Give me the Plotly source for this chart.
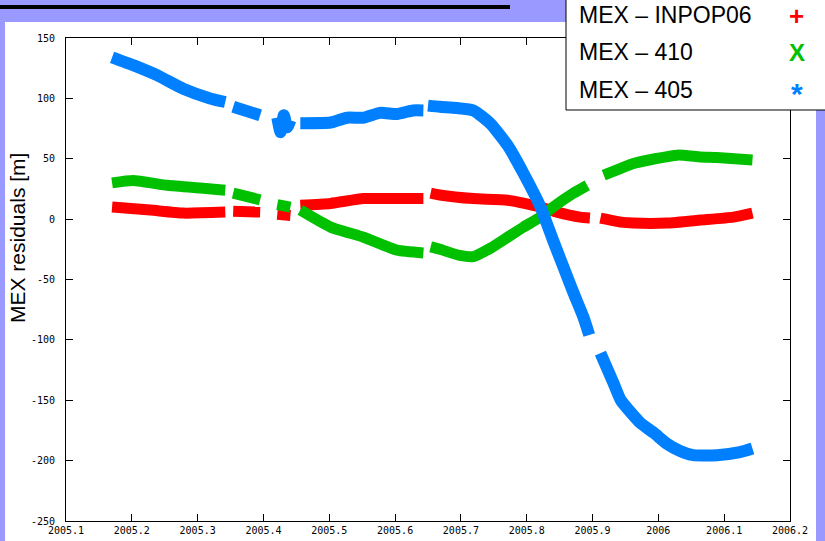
import plotly.graph_objects as go

# ---------------- data ----------------
t_inpop = [2005.170, 2005.228, 2005.278, 2005.342, None,
           2005.354, 2005.395, None,
           2005.421, 2005.441, None,
           2005.456, 2005.502, 2005.552, 2005.603, 2005.643, None,
           2005.654, 2005.668, 2005.719, 2005.771, 2005.821, 2005.846, 2005.881, 2005.896, None,
           2005.912, 2005.943, 2005.962, 2006.013, 2006.064, 2006.114, 2006.143]
v_inpop = [10, 7.5, 5, 5.8, None,
           6.6, 5.8, None,
           4, 3, None,
           11.6, 13, 17, 17, 17, None,
           21.5, 20, 17, 15.7, 10, 5.8, 1.7, 1, None,
           0.8, -2.5, -3.3, -3.3, -0.8, 1.7, 5]

t_410 = [2005.170, 2005.202, 2005.254, 2005.304, 2005.342, None,
         2005.354, 2005.395, None,
         2005.421, 2005.441, None,
         2005.456, 2005.502, 2005.552, 2005.603, 2005.643, None,
         2005.654, 2005.668, 2005.698, 2005.719, 2005.745, 2005.771, 2005.795, 2005.821,
         2005.840, 2005.871, 2005.892, None,
         2005.917, 2005.943, 2005.962, 2005.995, 2006.029, 2006.064, 2006.089, 2006.143]
v_410 = [30, 32, 28, 25.7, 24, None,
         21.5, 16, None,
         12, 10, None,
         7.5, -6.6, -15, -25.7, -28, None,
         -23, -25, -30, -31, -24, -15, -6.6, 1.7,
         10, 21.5, 28, None,
         36.4, 42, 46, 50, 53, 51.5, 51, 49]

t_405 = [2005.170, 2005.202, 2005.239, 2005.278, 2005.319, 2005.342, None,
         2005.354, 2005.395, None,
         2005.421, 2005.426, 2005.431, 2005.436, 2005.441, None,
         2005.456, 2005.502, 2005.527, 2005.552, 2005.577, 2005.603, 2005.627, 2005.643, None,
         2005.650, 2005.668, 2005.694, 2005.719, 2005.745, 2005.771, 2005.795, 2005.821,
         2005.840, 2005.856, 2005.871, 2005.886, 2005.895, None,
         2005.912, 2005.932, 2005.943, 2005.973, 2005.993, 2006.013, 2006.033, 2006.053,
         2006.089, 2006.124, 2006.143]
v_405 = [134, 127.5, 119, 108, 100, 97, None,
         93, 86, None,
         84, 72, 86, 76, 82, None,
         79.5, 80, 84, 84, 88, 87, 90, 90, None,
         94, 93, 92, 90, 79, 61, 38, 10,
         -17.5, -40, -61, -81, -96, None,
         -111, -136, -150, -169, -177, -186, -192, -195.5,
         -195.5, -193, -190]

x_ticks = [2005.1, 2005.2, 2005.3, 2005.4, 2005.5, 2005.6, 2005.7, 2005.8, 2005.9, 2006.0, 2006.1, 2006.2]
x_tick_labels = ["2005.1", "2005.2", "2005.3", "2005.4", "2005.5", "2005.6", "2005.7",
                 "2005.8", "2005.9", "2006", "2006.1", "2006.2"]
y_ticks = [-250, -200, -150, -100, -50, 0, 50, 100, 150]
y_tick_labels = ["-250", "-200", "-150", "-100", "-50", "0", "50", "100", "150"]

series_names = ["MEX \u2013 INPOP06", "MEX \u2013 410", "MEX \u2013 405"]
series_colors = ["#ff0000", "#00c000", "#0080ff"]
series_symbols = ["+", "X", "*"]

# ---------------- figure ----------------
fig = go.Figure()
for t, v, name, col, w in [(t_inpop, v_inpop, series_names[0], series_colors[0], 11),
                           (t_410, v_410, series_names[1], series_colors[1], 11),
                           (t_405, v_405, series_names[2], series_colors[2], 12)]:
    fig.add_trace(go.Scatter(x=t, y=v, mode="lines", name=name,
                             line=dict(color=col, width=w, shape="spline", smoothing=0.5),
                             connectgaps=False, showlegend=False, hoverinfo="skip"))

L, R, T, B = 66, 35, 38, 20
W, H = 825, 541
pw, ph = W - L - R, H - T - B


def px(x):
    return (x - L) / pw


def py(y):
    return (H - B - y) / ph


tickfont = dict(family="DejaVu Sans Mono", size=10, color="black")
fig.update_xaxes(range=[2005.1, 2006.2], tickvals=x_ticks, ticktext=x_tick_labels,
                 ticks="inside", ticklen=7, tickcolor="black", showline=True,
                 linecolor="black", linewidth=1, mirror="ticks", showgrid=False,
                 zeroline=False, tickfont=tickfont, automargin=False)
fig.update_yaxes(range=[-250, 150], tickvals=y_ticks, ticktext=y_tick_labels,
                 ticks="inside", ticklen=7, tickcolor="black", showline=True,
                 linecolor="black", linewidth=1, mirror="ticks", showgrid=False,
                 zeroline=False, tickfont=tickfont, ticklabelstandoff=8, automargin=False)

shapes = [
    dict(type="rect", xref="paper", yref="paper", x0=px(5), x1=px(816), y0=py(545), y1=py(22),
         fillcolor="white", line=dict(width=0), layer="below"),
    dict(type="line", xref="paper", yref="paper", x0=px(-5), x1=px(510), y0=py(7), y1=py(7),
         line=dict(color="black", width=4), layer="above"),
    dict(type="rect", xref="paper", yref="paper", x0=px(566), x1=px(830), y0=py(110), y1=py(-5),
         fillcolor="white", line=dict(color="black", width=1), layer="above"),
]

annotations = [
    dict(text="MEX residuals [m]", xref="paper", yref="paper", x=px(18), y=py(238),
         textangle=-90, showarrow=False, font=dict(family="Liberation Sans", size=21, color="black"),
         xanchor="center", yanchor="middle"),
]
row_y = [15, 52, 90]
sym_sizes = [26, 24, 30]
sym_dy = [1, 0, 3]
for name, col, sym, ry, ss, dy in zip(series_names, series_colors, series_symbols, row_y, sym_sizes, sym_dy):
    annotations.append(dict(text=name, xref="paper", yref="paper", x=px(577), y=py(ry),
                            xanchor="left", yanchor="middle", showarrow=False,
                            font=dict(family="Liberation Sans", size=23, color="black")))
    annotations.append(dict(text="<b>%s</b>" % sym, xref="paper", yref="paper", x=px(797),
                            y=py(ry + dy),
                            xanchor="center", yanchor="middle", showarrow=False,
                            font=dict(family="Liberation Sans", size=ss, color=col)))

fig.update_layout(width=W, height=H, margin=dict(l=L, r=R, t=T, b=B, autoexpand=False),
                  paper_bgcolor="#9999ff", plot_bgcolor="white",
                  shapes=shapes, annotations=annotations, showlegend=False)

fig.write_html("out.html", config={"displayModeBar": False},
               post_script="document.body.style.margin='0px';document.body.style.overflow='hidden';")
